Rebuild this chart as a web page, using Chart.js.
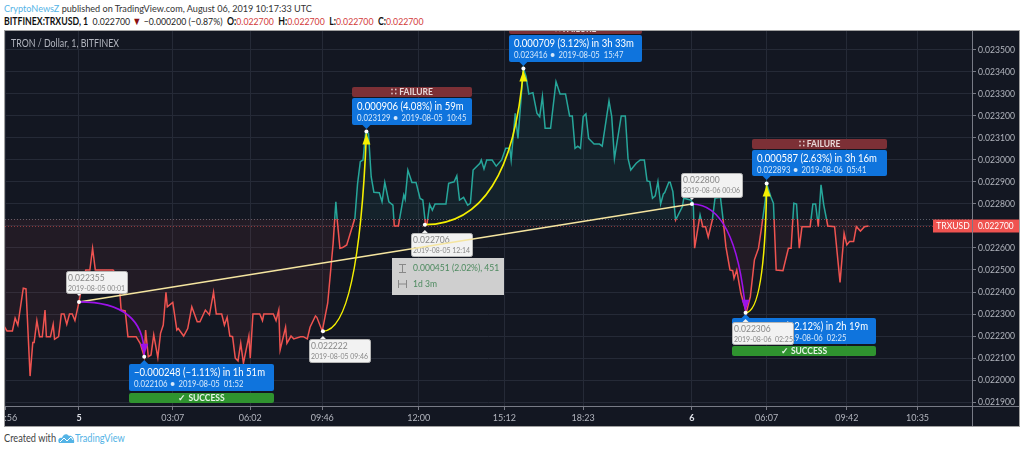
<!DOCTYPE html>
<html>
<head>
<meta charset="utf-8">
<script src="https://cdn.jsdelivr.net/npm/chart.js@4/dist/chart.umd.min.js"></script>
<style>
  html, body { margin: 0; padding: 0; background: #fff; width: 1024px; height: 452px; overflow: hidden; font-family: Lato, sans-serif; }
  #head1, #head2, #foot { position: absolute; left: 4px; white-space: pre; color: #333; font-size: 10.4px; line-height: 13px; transform-origin: left center; transform: scaleX(.875); }
  #head1 { top: 2px; }
  #head2 { top: 15px; color: #222; transform: scaleX(.84); }
  #head2 b { color: #111; }
  #foot { top: 432px; font-size: 10.6px; color: #444; transform: scaleX(.87); }
  .blue { color: #55b4e6; }
  .red { color: #d23a3a; }
  .dn { color: #8b1010; font-size: 11px; line-height: 10px; }
  #logo { position: absolute; left: 58px; top: 433px; }
  #tv { position: absolute; left: 75px; top: 432px; font-size: 10.6px; line-height: 13px; color: #55b4e6; transform-origin: left center; transform: scaleX(.87); }
  #frame { position: absolute; left: 4px; top: 30px; width: 1014px; height: 395px; border: 1px solid #a0a0a0; background: #131722; }
  canvas { display: block; }
</style>
</head>
<body>
<div id="head1"><span class="blue">CryptoNewsZ</span> published on TradingView.com, August 06, 2019 10:17:33 UTC</div>
<div id="head2"><b>BITFINEX:TRXUSD, 1</b>  0.022700 <span class="dn">▼</span> −0.000200 (−0.87%)  <b>O:</b><span class="red">0.022700</span>  <b>H:</b><span class="red">0.022700</span>  <b>L:</b><span class="red">0.022700</span>  <b>C:</b><span class="red">0.022700</span></div>
<div id="frame"><canvas id="chart" width="1014" height="395"></canvas></div>
<div id="foot">Created with</div>
<svg id="logo" width="17" height="11" viewBox="0 0 17 11"><path d="M1 10 C-1 6 2 4 4 5 C5 1 9 0 11 3 C14 2 17 6 16 10 Z" fill="#55b4e6"/><path d="M2 9 L6 5 L9 8 L13 4 L15 7" fill="none" stroke="#fff" stroke-width="1"/></svg>
<div id="tv">TradingView</div>
<script>
// bar number counted from the 5 Aug open, 1 bar = 1 traded minute
const bars = [-55,-53,-49,-47,-45,-41,-39,-36,-34,-33,-31,-29,-27,-25,-24,-21,-19,-18,-15,-13,-11,-9,-7,-5,-3,0,3,5,8,10,12,25,26,30,31,34,36,42,45,48,49,51,53,55,58,60,62,64,65,69,72,73,77,80,83,87,89,93,96,99,101,105,107,109,111,113,115,117,119,121,125,126,128,133,135,136,143,145,147,148,152,153,156,158,163,165,168,170,174,175,179,183,187,189,190,192,194,197,203,205,207,209,211,213,215,217,221,223,225,228,231,232,235,239,240,242,245,248,251,253,255,256,258,260,262,270,272,276,278,280,283,286,288,290,295,296,298,300,304,307,311,314,317,318,321,323,327,329,331,334,337,339,341,343,347,351,354,358,361,363,365,367,369,371,373,375,379,383,385,390,392,394,399,402,404,406,410,413,416,418,420,422,424,426,428,430,431,434,435,437,439,444,445,450,452,453,457,459,461,463,466,468,472,474,476,479,481,482,484,487,491,494,497,500,502,505,506,509,511,513,518,522,524,526,528,530,532,538,540,542,544,546,548,551,556,560,563,565,567,570,572,575,578,581];
const prices = [0.022243,0.022223,0.022223,0.022281,0.02225,0.022417,0.022414,0.022018,0.022171,0.022171,0.02227,0.022197,0.022197,0.022318,0.022197,0.022197,0.022253,0.022185,0.022197,0.0223,0.0223,0.022253,0.0223,0.0223,0.02227,0.022355,0.022455,0.0225,0.0225,0.022599,0.0225,0.0225,0.022493,0.022402,0.022318,0.022314,0.022197,0.022197,0.022167,0.022106,0.022227,0.022106,0.022114,0.022205,0.022102,0.022212,0.02225,0.022399,0.022333,0.022353,0.022227,0.022234,0.0222,0.022234,0.022333,0.022265,0.022265,0.022318,0.022296,0.022399,0.0223,0.0223,0.02225,0.022285,0.0222,0.022197,0.022099,0.022087,0.022167,0.022076,0.0222,0.022099,0.0223,0.0223,0.02227,0.0223,0.0223,0.02227,0.022318,0.022137,0.02224,0.022167,0.0222,0.022187,0.022197,0.022197,0.022187,0.02224,0.022291,0.022285,0.022222,0.022349,0.022621,0.02281,0.022728,0.022599,0.022602,0.022614,0.022735,0.022894,0.022992,0.023,0.023129,0.023121,0.022924,0.022853,0.022851,0.02281,0.022898,0.02281,0.022795,0.0227,0.0227,0.022841,0.022821,0.022954,0.022898,0.022898,0.022825,0.022818,0.022706,0.022706,0.022798,0.022772,0.0228,0.0228,0.022894,0.022901,0.022928,0.022818,0.02283,0.022795,0.022803,0.022954,0.022985,0.023,0.022959,0.023,0.023,0.022972,0.023,0.023053,0.023053,0.023,0.023212,0.023098,0.023416,0.023378,0.0233,0.023306,0.023212,0.023197,0.023288,0.023144,0.023144,0.023356,0.0233,0.0233,0.0232,0.0232,0.023053,0.023063,0.023053,0.023197,0.023209,0.023098,0.023072,0.023072,0.023063,0.023268,0.023197,0.023007,0.0232,0.0232,0.023007,0.022954,0.022985,0.023,0.023,0.022905,0.022902,0.022826,0.022837,0.022902,0.0228,0.022846,0.022852,0.022899,0.022899,0.022856,0.022727,0.022788,0.022826,0.022818,0.022803,0.022599,0.02275,0.022697,0.022697,0.022649,0.022727,0.022826,0.02283,0.022727,0.022606,0.0225,0.022497,0.022462,0.0225,0.022394,0.022306,0.022379,0.022546,0.022599,0.022682,0.022818,0.022893,0.022834,0.022803,0.0225,0.022497,0.022599,0.022599,0.022803,0.0228,0.022599,0.022697,0.022697,0.0228,0.0228,0.022697,0.022887,0.022796,0.0227,0.022697,0.022444,0.022667,0.022614,0.022629,0.022629,0.022697,0.022677,0.022697,0.0227];

const xTickBars = [-54,69,126,179,250,313,371,451,506,565,617];
const xTickLabels = ['23:56','03:07','06:02','09:46','12:00','15:12','18:23','6','06:07','09:42','10:35'];
const dayBars = [0];
const dayLabels = ['5'];
const yTicks = [0.0219,0.022,0.0221,0.0222,0.0223,0.0224,0.0225,0.0226,0.0227,0.0228,0.0229,0.023,0.0231,0.0232,0.0233,0.0234,0.0235];

const lastPrice = 0.0227;
const baseline = 0.022732;

// picked points: start of a drawing or end of one
const pickBars = [0,48,179.5,211.5,254.5,327,451,490.5,506];
const pickPrices = [0.022355,0.022106,0.022222,0.023129,0.022706,0.023416,0.0228,0.022306,0.022893];
const pickDates = ['2019-08-05 00:01','2019-08-05  01:52','2019-08-05 09:46','2019-08-05  10:45','2019-08-05 12:14','2019-08-05  15:47','2019-08-06 00:06','2019-08-06  02:25','2019-08-06  05:41'];
const moveTexts = ['−0.000248 (−1.11%) in 1h 51m','0.000906 (4.08%) in 59m','0.000709 (3.12%) in 3h 33m','−0.000484 (−2.12%) in 2h 19m','0.000587 (2.63%) in 3h 16m'];
const measureText = ['0.000451 (2.02%), 451','1d 3m'];

const FONT = 'Lato, sans-serif';
const TEAL = '#26a69a', RED = '#ef5350';
const GRID = '#252a37', AXIS = '#787b86', TICK_TEXT = '#b2b5be';

function lineColor(c) {
  const { ctx, chartArea, scales } = c.chart;
  if (!chartArea) return RED;
  const y = scales.y.getPixelForValue(baseline);
  const s = (y - chartArea.top) / (chartArea.bottom - chartArea.top);
  const g = ctx.createLinearGradient(0, chartArea.top, 0, chartArea.bottom);
  g.addColorStop(0, TEAL); g.addColorStop(s, TEAL); g.addColorStop(s, RED); g.addColorStop(1, RED);
  return g;
}

function roundBox(ctx, x, y, w, h, r, fill, stroke) {
  ctx.beginPath();
  ctx.roundRect(x, y, w, h, r);
  ctx.fillStyle = fill;
  ctx.fill();
  if (stroke) { ctx.strokeStyle = stroke; ctx.lineWidth = 1; ctx.stroke(); }
}

// the original face is narrower than anything installed, so squeeze it a bit
function narrow(ctx, text, x, y, k) {
  ctx.fillText(text, x, y, ctx.measureText(text).width * k);
}

const drawings = {
  id: 'drawings',
  afterDatasetsDraw(chart) {
    const { ctx, scales, chartArea } = chart;
    const px = i => ({ x: scales.x.getPixelForValue(pickBars[i]), y: scales.y.getPixelForValue(pickPrices[i]) });
    const W = chart.width, H = chart.height;

    // baseline and last price lines
    ctx.save();
    ctx.lineWidth = 1;
    ctx.setLineDash([1, 2]);
    ctx.strokeStyle = 'rgba(200,200,210,.4)';
    let yb = Math.round(scales.y.getPixelForValue(baseline)) + .5;
    ctx.beginPath(); ctx.moveTo(0, yb); ctx.lineTo(chartArea.right, yb); ctx.stroke();
    ctx.strokeStyle = 'rgba(239,83,80,.55)';
    let yl = Math.round(scales.y.getPixelForValue(lastPrice)) + .5;
    ctx.beginPath(); ctx.moveTo(0, yl); ctx.lineTo(chartArea.right, yl); ctx.stroke();
    ctx.setLineDash([]);

    // axis lines run on into the corners
    ctx.strokeStyle = AXIS;
    ctx.beginPath();
    ctx.moveTo(chartArea.right + .5, chartArea.bottom); ctx.lineTo(chartArea.right + .5, H);
    ctx.moveTo(chartArea.right, chartArea.bottom + .5); ctx.lineTo(W, chartArea.bottom + .5);
    ctx.stroke();

    // result boxes
    function blueBox(i, textIdx, dx, dy, w, h, status) {
      const p = px(i), x = Math.round(p.x + dx), y = Math.round(p.y + dy);
      // pointer
      ctx.fillStyle = '#0f74dd';
      ctx.beginPath();
      if (dy > 0) { ctx.moveTo(p.x - 4, y); ctx.lineTo(p.x, y - 4); ctx.lineTo(p.x + 4, y); }
      else { ctx.moveTo(p.x - 4, y + h); ctx.lineTo(p.x, y + h + 4); ctx.lineTo(p.x + 4, y + h); }
      ctx.fill();
      roundBox(ctx, x, y, w, h, 2, '#0f74dd');
      ctx.textAlign = 'left'; ctx.textBaseline = 'middle';
      ctx.fillStyle = '#fff';
      ctx.font = '10.5px ' + FONT;
      narrow(ctx, moveTexts[textIdx], x + 5, y + 8.5, .91);
      ctx.fillStyle = '#d5e8fb';
      ctx.font = '8.5px ' + FONT;
      const val = pickPrices[i].toFixed(6);
      narrow(ctx, val, x + 5, y + 20, .92);
      const vw = ctx.measureText(val).width * .92;
      ctx.beginPath(); ctx.arc(x + vw + 10, y + 20, 2, 0, 7); ctx.fill();
      narrow(ctx, pickDates[i], x + vw + 16, y + 20, .9);
      // status bar
      const ok = status === 'SUCCESS';
      const sy = ok ? y + h + 2 : y - 11;
      roundBox(ctx, x, sy, w, 10, 2, ok ? '#2f932f' : '#7c3036');
      ctx.textAlign = 'center';
      ctx.fillStyle = ok ? '#e8f5e8' : '#e8d8d8';
      ctx.font = 'bold 8.5px ' + FONT;
      ctx.fillText((ok ? '✓ ' : '∷ ') + status, x + w / 2, sy + 5.2);
    }
    blueBox(1, 0, -15, 7, 145, 27, 'SUCCESS');
    blueBox(3, 1, -14, -34, 120, 27, 'FAILURE');
    blueBox(5, 2, -14, -33.5, 133, 27, 'FAILURE');
    blueBox(7, 3, -13.5, 5.5, 144, 26, 'SUCCESS');
    blueBox(8, 4, -15, -33.5, 135, 26, 'FAILURE');

    // price + time tags
    function whiteTag(i, dx, dy, h) {
      const p = px(i), x = Math.round(p.x + dx), y = Math.round(p.y + dy), w = 61;
      ctx.fillStyle = '#f2f2f2';
      ctx.beginPath();
      if (dy > 0) { ctx.moveTo(p.x - 3, y); ctx.lineTo(p.x, y - 3); ctx.lineTo(p.x + 3, y); }
      else { ctx.moveTo(p.x - 3, y + h); ctx.lineTo(p.x, y + h + 3); ctx.lineTo(p.x + 3, y + h); }
      ctx.fill();
      roundBox(ctx, x + .5, y + .5, w, h, 2, '#f2f2f2', '#b5b5b5');
      ctx.textAlign = 'left'; ctx.textBaseline = 'middle';
      ctx.fillStyle = '#888';
      ctx.font = '9.5px ' + FONT;
      narrow(ctx, pickPrices[i].toFixed(6), x + 2, y + 7, .9);
      ctx.font = '8px ' + FONT;
      narrow(ctx, pickDates[i], x + 2, y + 17, .87);
    }
    whiteTag(0, -13, -31, 22);
    whiteTag(2, -14, 8, 23);
    whiteTag(4, -14, 8, 23);
    whiteTag(6, -11, -31, 24);
    whiteTag(7, -14, 9, 22);

    // measure box
    const m0 = px(0), m1 = px(6);
    const mx = Math.round(scales.x.getPixelForValue(pickBars[4])) - 33, my = Math.round(px(4).y) + 33;
    ctx.fillStyle = '#cfcfcf';
    ctx.fillRect(mx, my, 112, 37);
    ctx.fillStyle = '#4d8a5f';
    ctx.font = '9.5px ' + FONT;
    narrow(ctx, measureText[0], mx + 21, my + 10, .9);
    narrow(ctx, measureText[1], mx + 21, my + 26, .9);
    ctx.strokeStyle = '#888';
    ctx.beginPath();
    ctx.moveTo(mx + 7, my + 6.5); ctx.lineTo(mx + 14, my + 6.5);
    ctx.moveTo(mx + 7, my + 14.5); ctx.lineTo(mx + 14, my + 14.5);
    ctx.moveTo(mx + 10.5, my + 7); ctx.lineTo(mx + 10.5, my + 14);
    ctx.moveTo(mx + 6.5, my + 22); ctx.lineTo(mx + 6.5, my + 30);
    ctx.moveTo(mx + 14.5, my + 22); ctx.lineTo(mx + 14.5, my + 30);
    ctx.moveTo(mx + 7, my + 26); ctx.lineTo(mx + 14, my + 26);
    ctx.stroke();

    // trend line between the two swing points
    ctx.strokeStyle = '#f5e5a0';
    ctx.lineWidth = 1.5;
    ctx.beginPath(); ctx.moveTo(m0.x, m0.y); ctx.lineTo(m1.x, m1.y); ctx.stroke();

    // curved arrows
    function arrow(from, to, cx, cy, color) {
      const a = px(from), b = px(to);
      const dir = b.y > a.y ? -1 : 1;
      const tipY = b.y + dir * 2;
      ctx.strokeStyle = color; ctx.fillStyle = color;
      ctx.lineWidth = 1.6;
      ctx.beginPath();
      ctx.moveTo(a.x, a.y);
      ctx.quadraticCurveTo(b.x + cx, a.y + cy, b.x, tipY);
      ctx.stroke();
      ctx.beginPath();
      ctx.moveTo(b.x, tipY);
      ctx.lineTo(b.x - 4, tipY + dir * 11);
      ctx.lineTo(b.x + 4, tipY + dir * 11);
      ctx.fill();
    }
    arrow(0, 1, 0, 0, '#9c12ea');
    arrow(2, 3, -8, 0, '#f5f000');
    arrow(4, 5, -13, 0, '#f5f000');
    arrow(6, 7, -10, 0, '#9c12ea');
    arrow(7, 8, -2, 0, '#f5f000');

    // white dots on the picked points
    ctx.fillStyle = '#fff';
    pickBars.forEach((b, i) => {
      const p = px(i);
      ctx.beginPath(); ctx.arc(p.x, p.y, 2, 0, 7); ctx.fill();
    });

    // study title
    ctx.textAlign = 'left'; ctx.textBaseline = 'middle';
    ctx.fillStyle = TICK_TEXT;
    ctx.font = '10.5px ' + FONT;
    narrow(ctx, 'TRON / Dollar, 1, BITFINEX', 6, 13, .84);

    // last price tag
    ctx.fillStyle = RED;
    ctx.fillRect(chartArea.right - 39, yl - 7, 39 + 47, 13);
    ctx.fillStyle = '#fff';
    ctx.font = '9px ' + FONT;
    ctx.textAlign = 'center';
    narrow(ctx, 'TRXUSD', chartArea.right - 19, yl, .95);
    ctx.textAlign = 'left';
    narrow(ctx, lastPrice.toFixed(6), chartArea.right + 6, yl, .92);
    ctx.strokeStyle = AXIS; ctx.lineWidth = 1;
    ctx.beginPath(); ctx.moveTo(chartArea.right + .5, yl - 7); ctx.lineTo(chartArea.right + .5, yl + 6); ctx.stroke();
    ctx.restore();
  }
};

const allXTicks = xTickBars.concat(dayBars).sort((a, b) => a - b);
const labelFor = v => {
  const i = xTickBars.indexOf(v);
  return i >= 0 ? xTickLabels[i] : dayLabels[dayBars.indexOf(v)];
};
const isDay = c => c.tick && ['5', '6'].includes(c.tick.label);

new Chart(document.getElementById('chart'), {
  type: 'line',
  data: {
    datasets: [{
      data: bars.map((b, i) => ({ x: b, y: prices[i] })),
      borderColor: lineColor,
      borderWidth: 1.5,
      pointRadius: 0,
      tension: 0,
      fill: { target: { value: baseline }, above: 'rgba(38,166,154,.08)', below: 'rgba(239,83,80,.07)' }
    }]
  },
  options: {
    responsive: false,
    animation: false,
    devicePixelRatio: 1,
    layout: { padding: 0 },
    plugins: { legend: { display: false }, tooltip: { enabled: false } },
    scales: {
      x: {
        type: 'linear',
        min: -54.45,
        max: 657.1,
        afterBuildTicks: a => { a.ticks = allXTicks.map(v => ({ value: v })); },
        afterFit: a => { a.height = 20; a.paddingLeft = 0; a.paddingRight = 0; },
        grid: { color: GRID, tickLength: 4, tickColor: AXIS },
        border: { color: AXIS },
        ticks: {
          autoSkip: false, maxRotation: 0, padding: 3,
          color: c => (isDay(c) ? '#dfe1e8' : TICK_TEXT),
          font: c => ({ family: FONT, size: 9, weight: isDay(c) ? 'bold' : 'normal' }),
          callback: v => labelFor(v)
        }
      },
      y: {
        position: 'right',
        min: 0.021882,
        max: 0.023586,
        afterBuildTicks: a => { a.ticks = yTicks.map(v => ({ value: v })); },
        afterFit: a => { a.width = 47; a.paddingTop = 0; a.paddingBottom = 0; },
        grid: { color: GRID, tickLength: 4, tickColor: AXIS },
        border: { color: AXIS },
        ticks: {
          autoSkip: false, padding: 2, color: TICK_TEXT,
          font: { family: FONT, size: 8.6 },
          callback: v => v.toFixed(6)
        }
      }
    }
  },
  plugins: [drawings]
});
</script>
</body>
</html>
